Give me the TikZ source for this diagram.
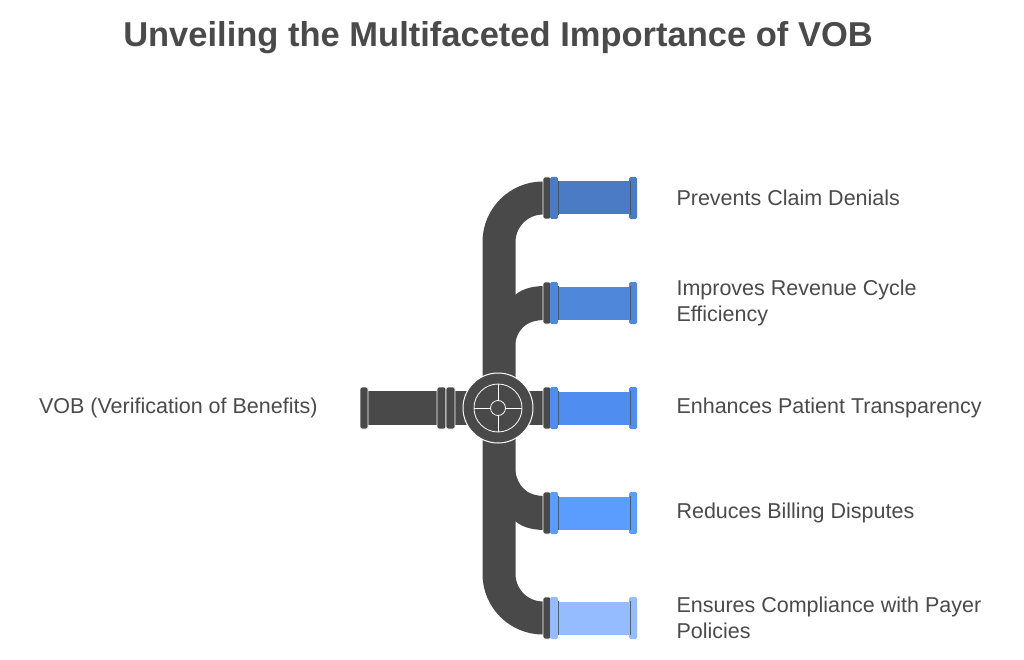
\documentclass[tikz,border=0pt]{standalone}
\usepackage{fontspec}
\setmainfont{Liberation Sans}
\begin{document}
\begin{tikzpicture}[x=1pt,y=-1pt,
  txt/.style={anchor=west,font=\fontsize{21.5}{26}\selectfont,text=tc,align=left},
  gflange/.style={fill=pg,draw=white,line width=0.8pt,rounded corners=1.5pt},
  pipe/.style={draw=pg,line width=33pt}]
\definecolor{pg}{HTML}{494949}
\definecolor{tc}{HTML}{4A4A4A}
\definecolor{c1}{HTML}{4A7BC4}
\definecolor{c2}{HTML}{4F87DA}
\definecolor{c3}{HTML}{4F8EF0}
\definecolor{c4}{HTML}{5B9CFF}
\definecolor{c5}{HTML}{94BCFF}
\useasboundingbox (0,0) rectangle (1024,660);
\node (title) at (498,38) {\fontsize{34.5}{40}\selectfont\bfseries\color{tc}Unveiling the Multifaceted Importance of VOB};
% trunk
\draw[pipe] (499,408) -- (499,242) arc[start angle=180,end angle=270,radius=44] -- (545,198);
\draw[pipe] (499,408) -- (499,574) arc[start angle=180,end angle=90,radius=44] -- (545,618);
\fill[pg] (514,350) .. controls (516,330) and (525,320) .. (545,320) -- (545,286) .. controls (530,286) and (520,290) .. (514,296) -- cycle;
\fill[pg] (514,463) .. controls (516,485) and (525,496) .. (545,496) -- (545,530) .. controls (530,530) and (520,526) .. (514,520) -- cycle;
\fill[pg] (499,391) rectangle (545,425);
% left pipe
\fill[pg] (365,391) rectangle (470,425);
\draw[gflange] (360,387) rectangle (368,429);
\draw[gflange] (437,387) rectangle (446,429);
\draw[gflange] (446,387) rectangle (455,429);
% valve
\node[circle,fill=pg,draw=white,line width=1pt,minimum size=70pt,inner sep=0] (valve) at (498,408) {};
\draw[white,line width=0.8pt] (498,408) circle[radius=24];
\draw[white,line width=0.8pt] (474,408) -- (522,408) (498,384) -- (498,432);
\node[circle,fill=pg,draw=white,line width=0.8pt,minimum size=15pt,inner sep=0] (hub) at (498,408) {};
% outlets
\foreach \y/\c in {198/c1,303/c2,408/c3,513/c4,618/c5}{
  \draw[gflange] (543,\y-21) rectangle (551,\y+21);
  \fill[\c] (555,\y-16.5) rectangle (632,\y+16.5);
  \fill[\c,rounded corners=1.5pt] (550,\y-21) rectangle (558,\y+21);
  \fill[\c,rounded corners=1.5pt] (629,\y-21) rectangle (637,\y+21);
  \draw[pg!80!\c,line width=1pt] (558,\y-17) -- (558,\y+17) (630,\y-17) -- (630,\y+17);
}
% labels
\node[anchor=east,font=\fontsize{21.5}{26}\selectfont,text=tc] (src) at (321,408) {VOB (Verification of Benefits)};
\node[txt] (l1) at (673,198) {Prevents Claim Denials};
\node[txt] (l2) at (673,303) {Improves Revenue Cycle\\Efficiency};
\node[txt] (l3) at (673,408) {Enhances Patient Transparency};
\node[txt] (l4) at (673,513) {Reduces Billing Disputes};
\node[txt] (l5) at (673,618) {Ensures Compliance with Payer\\Policies};
\end{tikzpicture}
\end{document}
